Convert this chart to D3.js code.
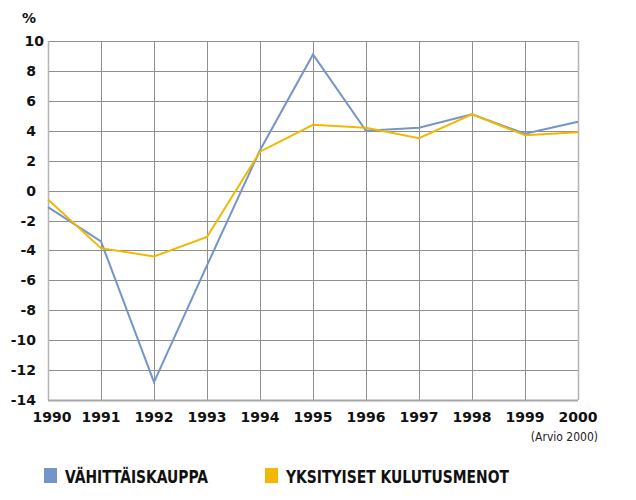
<!DOCTYPE html>
<html>
<head>
<meta charset="utf-8">
<script src="https://cdn.jsdelivr.net/npm/d3@7"></script>
<style>
  body { margin: 0; background: #fff; }
  svg { display: block; }
  .tick-label { font-family: "DejaVu Sans", sans-serif; font-weight: bold; font-size: 14px; fill: #111; }
  .legend-label { font-family: "DejaVu Sans Condensed", "DejaVu Sans", sans-serif; font-weight: bold; font-size: 18px; fill: #111; }
</style>
</head>
<body>
<svg id="chart" width="636" height="500"></svg>
<script>
// data
const years = [1990, 1991, 1992, 1993, 1994, 1995, 1996, 1997, 1998, 1999, 2000];
const vahittaiskauppa = [-1.1, -3.4, -12.8, -5.0, 2.7, 9.1, 4.0, 4.2, 5.1, 3.8, 4.6];
const kulutusmenot = [-0.6, -3.85, -4.4, -3.1, 2.6, 4.4, 4.2, 3.5, 5.1, 3.7, 3.9];
const yTicks = [10, 8, 6, 4, 2, 0, -2, -4, -6, -8, -10, -12, -14];
const seriesNames = ["VÄHITTÄISKAUPPA", "YKSITYISET KULUTUSMENOT"];
const seriesColors = ["#7594c9", "#f2b800"];

const svg = d3.select("#chart");
const margin = { top: 41, right: 58, bottom: 100, left: 48 };
const innerW = 636 - margin.left - margin.right;
const innerH = 500 - margin.top - margin.bottom;

const g = svg.append("g")
    .attr("transform", `translate(${margin.left},${margin.top})`);

const x = d3.scaleLinear().domain([1990, 2000]).range([0, innerW]);
const y = d3.scaleLinear().domain([-14, 10]).range([innerH, 0]);

// horizontal grid
g.append("g")
    .selectAll("line")
    .data(yTicks)
    .join("line")
    .attr("x1", 0).attr("x2", innerW)
    .attr("y1", d => Math.round(y(d)) + 0.5)
    .attr("y2", d => Math.round(y(d)) + 0.5)
    .attr("stroke", "#8f8f8f")
    .attr("stroke-width", 1);

// vertical grid
g.append("g")
    .selectAll("line")
    .data(years)
    .join("line")
    .attr("x1", d => Math.round(x(d)) + 0.5)
    .attr("x2", d => Math.round(x(d)) + 0.5)
    .attr("y1", 0).attr("y2", innerH)
    .attr("stroke", d => (d === 1990 || d === 2000) ? "#b5b5b5" : "#8f8f8f")
    .attr("stroke-width", d => (d === 1990 || d === 2000) ? 1.5 : 1);

// bottom axis line
g.append("line")
    .attr("x1", 0).attr("x2", innerW)
    .attr("y1", innerH + 0.5).attr("y2", innerH + 0.5)
    .attr("stroke", "#a8a8a8")
    .attr("stroke-width", 2);

// y labels
svg.append("g")
    .selectAll("text")
    .data(yTicks)
    .join("text")
    .attr("class", "tick-label")
    .attr("x", d => d === 10 ? 44 : 36)
    .attr("y", d => margin.top + y(d) + 5)
    .attr("text-anchor", "end")
    .text(d => d);

svg.append("text")
    .attr("class", "tick-label")
    .attr("x", 36)
    .attr("y", 23)
    .attr("text-anchor", "end")
    .text("%");

// x labels
svg.append("g")
    .selectAll("text")
    .data(years)
    .join("text")
    .attr("class", "tick-label")
    .attr("x", d => margin.left + x(d) + (d === 1990 ? 4 : 0))
    .attr("y", 422)
    .attr("text-anchor", "middle")
    .text(d => d);

svg.append("text")
    .attr("x", 598)
    .attr("y", 441)
    .attr("text-anchor", "end")
    .style("font-family", "DejaVu Sans Condensed, DejaVu Sans, sans-serif")
    .style("font-size", "12px")
    .style("fill", "#222")
    .text("(Arvio 2000)");

// lines
const line = d3.line()
    .x((d, i) => x(years[i]))
    .y(d => y(d));

[vahittaiskauppa, kulutusmenot].forEach((vals, i) => {
    g.append("path")
        .datum(vals)
        .attr("fill", "none")
        .attr("stroke", seriesColors[i])
        .attr("stroke-width", 2)
        .attr("stroke-linejoin", "miter")
        .attr("d", line);
});

// legend
const legendX = [44, 265];
const legendW = [143, 223];
seriesNames.forEach((name, i) => {
    svg.append("rect")
        .attr("x", legendX[i])
        .attr("y", 468)
        .attr("width", 13)
        .attr("height", 15)
        .attr("fill", seriesColors[i]);
    svg.append("text")
        .attr("class", "legend-label")
        .attr("x", legendX[i] + 21)
        .attr("y", 483)
        .attr("textLength", legendW[i])
        .attr("lengthAdjust", "spacingAndGlyphs")
        .text(name);
});
</script>
</body>
</html>
